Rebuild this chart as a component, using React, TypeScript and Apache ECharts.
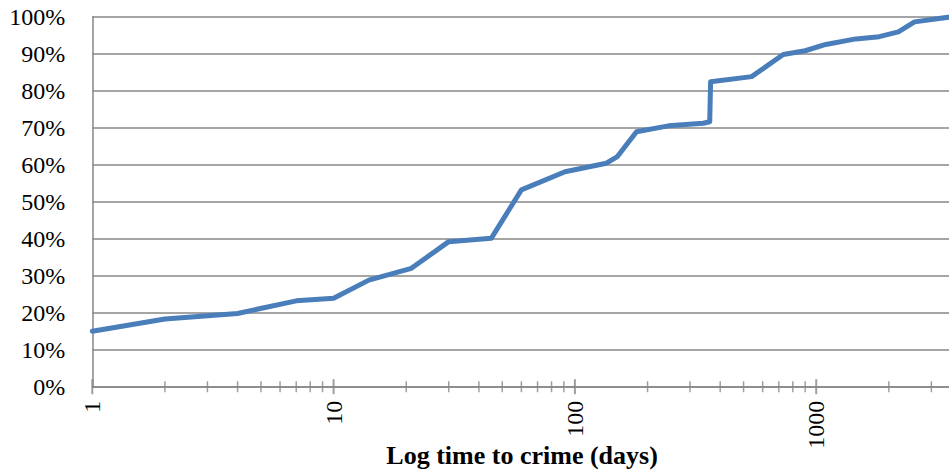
import React, { useEffect, useRef } from "react";
import * as echarts from "echarts";

const days = [1, 2, 4, 7, 10, 14, 21, 30, 45, 60, 91, 135, 150, 180, 244, 340, 362, 365, 540, 730, 900, 1095, 1460, 1825, 2190, 2555, 3650];
const cumulativePct = [15.0, 18.3, 19.8, 23.2, 23.9, 28.8, 32.0, 39.2, 40.1, 53.2, 58.1, 60.4, 62.2, 68.9, 70.5, 71.2, 71.6, 82.4, 83.8, 89.8, 90.8, 92.5, 94.0, 94.6, 95.9, 98.6, 100.0];
const majorTicks = [1, 10, 100, 1000];
const minorTicks = [2, 3, 4, 5, 6, 7, 8, 9, 20, 30, 40, 50, 60, 70, 80, 90, 200, 300, 400, 500, 600, 700, 800, 900, 2000, 3000];
const xTitle = "Log time to crime (days)";

const FONT = '"Liberation Serif", "Times New Roman", serif';
const GRAY = "#878787";

export default function App() {
  const ref = useRef<HTMLDivElement>(null);
  useEffect(() => {
    if (!ref.current) return;
    const chart = echarts.init(ref.current, null, { renderer: "svg" });
    chart.setOption({
      animation: false,
      backgroundColor: "#ffffff",
      grid: {
        left: 92.3,
        right: -2.9,
        top: 16.7,
        bottom: 87.3,
        containLabel: false,
        outerBoundsMode: "none",
      },
      xAxis: {
        type: "log",
        logBase: 10,
        min: 1,
        max: 3650,
        name: xTitle,
        nameLocation: "middle",
        nameGap: 56,
        nameMoveOverlap: false,
        nameTextStyle: { fontFamily: FONT, fontSize: 26, fontWeight: "bold", color: "#000" },
        axisLine: { show: true, lineStyle: { color: GRAY, width: 1.5 } },
        axisTick: { show: false },
        splitLine: { show: false },
        minorTick: { show: false },
        axisLabel: {
          rotate: 90,
          margin: 14,
          fontFamily: FONT,
          fontSize: 24,
          color: "#000",
          showMinLabel: true,
          showMaxLabel: false,
          formatter: (v: number) => {
            const r = Math.round(v);
            return majorTicks.includes(r) ? String(r) : "";
          },
        },
      },
      yAxis: {
        type: "value",
        min: 0,
        max: 100,
        interval: 10,
        axisLine: { show: true, lineStyle: { color: GRAY, width: 1.5 } },
        axisTick: { show: false },
        splitLine: { show: true, lineStyle: { color: GRAY, width: 1.5 } },
        axisLabel: {
          margin: 27,
          fontFamily: FONT,
          fontSize: 24,
          color: "#000",
          formatter: "{value}%",
        },
      },
      series: [
        {
          type: "scatter",
          data: minorTicks.map((v) => [v, 0]),
          symbol: "rect",
          symbolSize: [1.5, 11],
          itemStyle: { color: GRAY },
          clip: false,
          silent: true,
          z: 1,
        },
        {
          type: "scatter",
          data: majorTicks.map((v) => [v, 0]),
          symbol: "rect",
          symbolSize: [2, 15],
          itemStyle: { color: GRAY },
          clip: false,
          silent: true,
          z: 1,
        },
        {
          type: "line",
          data: days.map((d, i) => [d, cumulativePct[i]]),
          showSymbol: false,
          symbol: "none",
          lineStyle: { color: "#4A7EBB", width: 5, join: "round", cap: "round" },
          clip: true,
          z: 3,
        },
      ],
    });
    return () => chart.dispose();
  }, []);
  return (
    <div
      ref={ref}
      style={{ position: "fixed", left: 0, top: 0, width: 949, height: 474 }}
    />
  );
}
